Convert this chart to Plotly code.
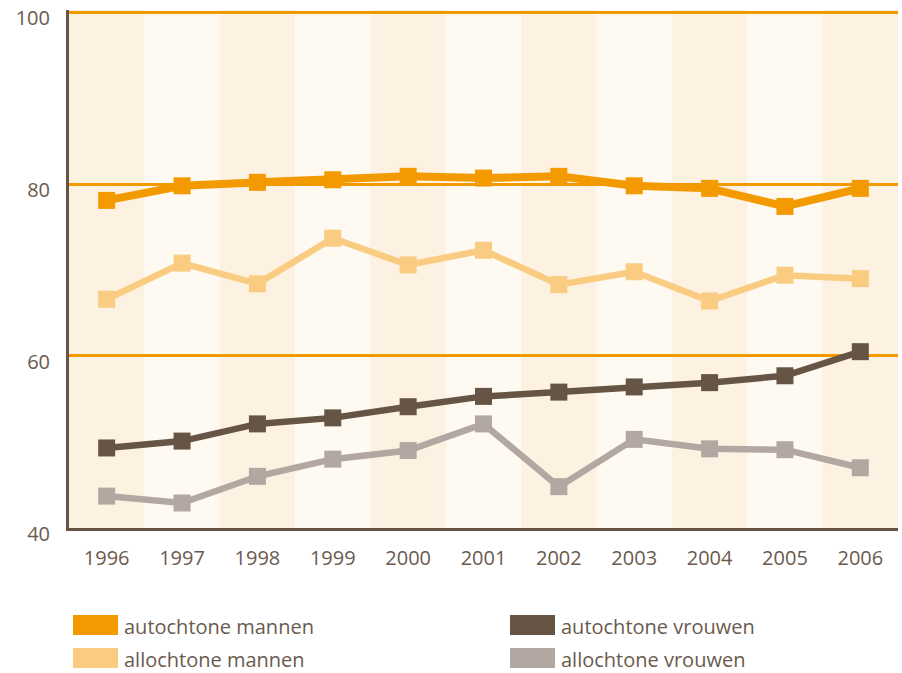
import plotly.graph_objects as go

years = [1996, 1997, 1998, 1999, 2000, 2001, 2002, 2003, 2004, 2005, 2006]
autochtone_mannen = [78.1, 79.8, 80.2, 80.5, 80.9, 80.7, 80.9, 79.8, 79.5, 77.4, 79.5]
allochtone_mannen = [66.6, 70.8, 68.4, 73.7, 70.6, 72.3, 68.3, 69.8, 66.4, 69.4, 69.0]
autochtone_vrouwen = [49.3, 50.1, 52.1, 52.8, 54.1, 55.3, 55.8, 56.4, 56.9, 57.7, 60.5]
allochtone_vrouwen = [43.7, 42.9, 46.0, 48.0, 49.0, 52.1, 44.8, 50.3, 49.2, 49.1, 47.0]
y_ticks = [40, 60, 80, 100]

series = [
    ("allochtone vrouwen", allochtone_vrouwen, "#B3A8A1", 6.5),
    ("autochtone vrouwen", autochtone_vrouwen, "#665445", 6.5),
    ("allochtone mannen", allochtone_mannen, "#F9CC82", 6.5),
    ("autochtone mannen", autochtone_mannen, "#F39A00", 8),
]

TXT = "#6B5A4E"
FONT = "Open Sans"

fig = go.Figure()
for name, vals, col, lw in series:
    fig.add_trace(go.Scatter(
        x=years, y=vals, name=name, mode="lines+markers",
        line=dict(color=col, width=lw),
        marker=dict(symbol="square", size=17, color=col),
        showlegend=False, hoverinfo="skip",
    ))

shapes = []
for i, yr in enumerate(years):
    shapes.append(dict(type="rect", xref="x", yref="paper", x0=yr - 0.5, x1=yr + 0.5,
                       y0=0, y1=1, fillcolor="#FDF2E2" if i % 2 == 0 else "#FEF9F1",
                       line=dict(width=0), layer="below"))

# legend (drawn manually)
legend_items = [
    ("autochtone mannen", "#F39A00", 73, 615),
    ("allochtone mannen", "#F9CC82", 73, 648),
    ("autochtone vrouwen", "#665445", 510, 615),
    ("allochtone vrouwen", "#B3A8A1", 510, 648),
]
annotations = []
W, H = 902, 673
L, R, T, B = 69, 4, 10, 145
pw, ph = W - L - R, H - T - B
for label, col, px, py in legend_items:
    shapes.append(dict(type="rect", xref="paper", yref="paper",
                       x0=(px - L) / pw, x1=(px + 45 - L) / pw,
                       y0=(H - B - py - 20) / ph, y1=(H - B - py) / ph,
                       fillcolor=col, line=dict(width=0)))
    annotations.append(dict(xref="paper", yref="paper",
                            x=(px + 50 - L) / pw, y=(H - B - py - 11) / ph,
                            text=label, showarrow=False, xanchor="left", yanchor="middle",
                            borderpad=0,
                            font=dict(family=FONT, size=20, color=TXT)))

fig.update_layout(
    width=W, height=H,
    margin=dict(l=L, r=R, t=T, b=B),
    paper_bgcolor="white", plot_bgcolor="#FEF9F1",
    shapes=shapes, annotations=annotations,
    showlegend=False, hovermode=False,
    xaxis=dict(range=[1995.5, 2006.5], tickvals=years, ticktext=[str(y) for y in years],
               showgrid=False, zeroline=False, showline=True, linecolor="#665445", linewidth=3,
               ticks="", tickfont=dict(family=FONT, size=20, color=TXT), ticklabelstandoff=10),
    yaxis=dict(range=[39.99, 100.25], tickvals=y_ticks, showgrid=True, gridcolor="#F39A00", gridwidth=2.5,
               zeroline=False, showline=True, linecolor="#665445", linewidth=3, ticks="",
               tickfont=dict(family=FONT, size=20, color=TXT), ticklabelstandoff=12,
               ticklabelshift=6),
)

fig.write_html("out.html", config={"displayModeBar": False},
               post_script="document.body.style.margin='0';document.body.style.overflow='hidden';")
